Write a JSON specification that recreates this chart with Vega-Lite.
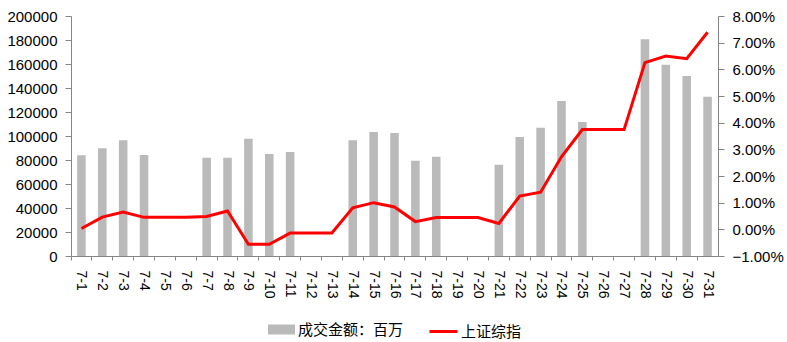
{
  "$schema": "https://vega.github.io/schema/vega-lite/v6.json",
  "width": 647,
  "height": 240,
  "autosize": {"type": "none"},
  "padding": {"left": 71, "top": 16, "right": 69, "bottom": 86},
  "config": {
    "view": {"stroke": null},
    "font": "Liberation Sans",
    "axis": {"grid": false, "domainColor": "#868686", "tickColor": "#868686", "labelColor": "#000000", "labelFontSize": 15, "labelFont": "Liberation Sans", "title": null}
  },
  "data": {"values": [
    {"date": "7-1", "amount": 83900, "index": 0.0003},
    {"date": "7-2", "amount": 89700, "index": 0.0046},
    {"date": "7-3", "amount": 96400, "index": 0.0065},
    {"date": "7-4", "amount": 84200, "index": 0.0045},
    {"date": "7-5", "amount": null, "index": 0.0045},
    {"date": "7-6", "amount": null, "index": 0.0045},
    {"date": "7-7", "amount": 81900, "index": 0.0048},
    {"date": "7-8", "amount": 81900, "index": 0.0069},
    {"date": "7-9", "amount": 97800, "index": -0.0056},
    {"date": "7-10", "amount": 85000, "index": -0.0056},
    {"date": "7-11", "amount": 86700, "index": -0.0014},
    {"date": "7-12", "amount": null, "index": -0.0014},
    {"date": "7-13", "amount": null, "index": -0.0014},
    {"date": "7-14", "amount": 96400, "index": 0.0081},
    {"date": "7-15", "amount": 103300, "index": 0.0100},
    {"date": "7-16", "amount": 102500, "index": 0.0084},
    {"date": "7-17", "amount": 79400, "index": 0.0029},
    {"date": "7-18", "amount": 82800, "index": 0.0044},
    {"date": "7-19", "amount": null, "index": 0.0044},
    {"date": "7-20", "amount": null, "index": 0.0044},
    {"date": "7-21", "amount": 76100, "index": 0.0022},
    {"date": "7-22", "amount": 99200, "index": 0.0125},
    {"date": "7-23", "amount": 106900, "index": 0.0139},
    {"date": "7-24", "amount": 129200, "index": 0.0272},
    {"date": "7-25", "amount": 111700, "index": 0.0374},
    {"date": "7-26", "amount": null, "index": 0.0374},
    {"date": "7-27", "amount": null, "index": 0.0374},
    {"date": "7-28", "amount": 180600, "index": 0.0625},
    {"date": "7-29", "amount": 159400, "index": 0.0650},
    {"date": "7-30", "amount": 150000, "index": 0.0640},
    {"date": "7-31", "amount": 132800, "index": 0.0739}
  ]},
  "encoding": {
    "x": {
      "field": "date", "type": "ordinal", "sort": null,
      "scale": {"paddingInner": 0, "paddingOuter": 0,
        "domain": ["7-1","7-2","7-3","7-4","7-5","7-6","7-7","7-8","7-9","7-10","7-11","7-12","7-13","7-14","7-15","7-16","7-17","7-18","7-19","7-20","7-21","7-22","7-23","7-24","7-25","7-26","7-27","7-28","7-29","7-30","7-31"]},
      "axis": {"labelAngle": 90, "bandPosition": 0, "tickSize": 4, "labelPadding": 10, "labelFontSize": 14}
    }
  },
  "layer": [
    {
      "mark": {"type": "bar", "width": {"band": 0.41}},
      "encoding": {
        "y": {"field": "amount", "type": "quantitative",
          "scale": {"domain": [0, 200000]},
          "axis": {"values": [0, 20000, 40000, 60000, 80000, 100000, 120000, 140000, 160000, 180000, 200000], "format": "d", "tickSize": 6, "labelPadding": 8}},
        "fill": {"datum": "成交金额：百万", "type": "nominal",
          "scale": {"range": ["#BABABA"]},
          "legend": {"orient": "none", "legendX": 197, "legendY": 300, "padding": 0, "symbolType": "M-1,-0.37H1V0.37H-1Z", "symbolSize": 729, "symbolStrokeWidth": 0, "labelOffset": 3, "labelFont": "Noto Sans CJK SC", "labelFontSize": 15, "labelColor": "#000000", "title": null}}
      }
    },
    {
      "mark": {"type": "line", "strokeWidth": 3},
      "encoding": {
        "y": {"field": "index", "type": "quantitative",
          "scale": {"domain": [-0.01, 0.08]},
          "axis": {"orient": "right", "format": ".2%", "values": [-0.01, 0, 0.01, 0.02, 0.03, 0.04, 0.05, 0.06, 0.07, 0.08], "tickSize": 6, "labelPadding": 8}},
        "stroke": {"datum": "上证综指", "type": "nominal",
          "scale": {"range": ["#FF0000"]},
          "legend": {"orient": "none", "legendX": 357, "legendY": 300, "padding": 0, "symbolType": "stroke", "symbolSize": 784, "symbolStrokeWidth": 3, "labelOffset": 2, "labelFont": "Noto Sans CJK SC", "labelFontSize": 15, "labelColor": "#000000", "title": null}}
      }
    }
  ],
  "resolve": {"scale": {"y": "independent", "fill": "independent", "stroke": "independent"}}
}
